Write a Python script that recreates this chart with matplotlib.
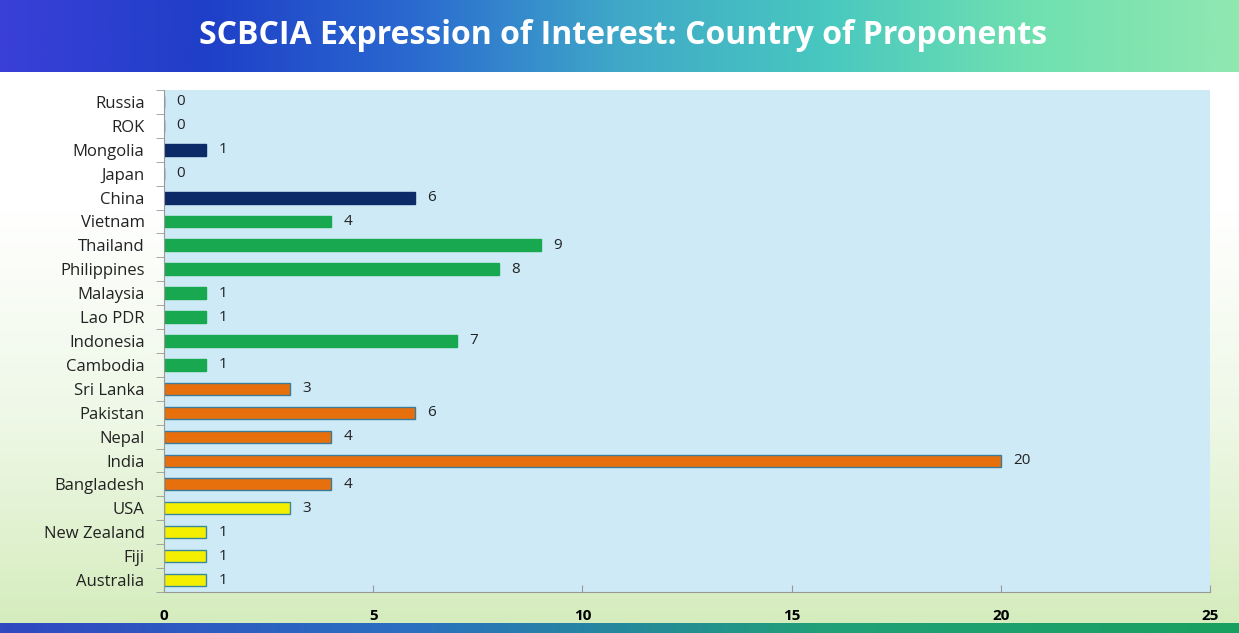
import numpy as np
import matplotlib.pyplot as plt
from matplotlib.colors import LinearSegmentedColormap

# data, bottom to top as drawn
countries = ["Australia", "Fiji", "New Zealand", "USA", "Bangladesh", "India",
             "Nepal", "Pakistan", "Sri Lanka", "Cambodia", "Indonesia", "Lao PDR",
             "Malaysia", "Philippines", "Thailand", "Vietnam", "China", "Japan",
             "Mongolia", "ROK", "Russia"]
proponents = [1, 1, 1, 3, 4, 20, 4, 6, 3, 1, 7, 1, 1, 8, 9, 4, 6, 0, 1, 0, 0]
regions = ["pacific"] * 4 + ["south"] * 5 + ["southeast"] * 7 + ["east"] * 5
x_ticks = [0, 5, 10, 15, 20, 25]

region_colors = {"pacific": "#f4ee00", "south": "#e8700c",
                 "southeast": "#18a850", "east": "#0c2a68"}
region_edges = {"pacific": "#3a8a9a", "south": "#3a7a9a",
                "southeast": "#18a850", "east": "#0c2a68"}

fig = plt.figure(figsize=(12.39, 6.33), dpi=100)

# page background: white fading to pale green at the bottom
bg = fig.add_axes([0, 0, 1, 1], zorder=0)
bg.set_axis_off()
grad = np.linspace(0, 1, 256).reshape(-1, 1)
bg_cmap = LinearSegmentedColormap.from_list("bg", ["#d4ecbc", "#eef8e6", "#ffffff", "#ffffff"])
bg.imshow(grad, aspect="auto", cmap=bg_cmap, extent=[0, 1, 0, 1], origin="lower")
bg.set_xlim(0, 1)
bg.set_ylim(0, 1)

# title banner
banner = fig.add_axes([0, 1 - 72 / 633, 1, 72 / 633], zorder=1)
banner.set_axis_off()
hgrad = np.linspace(0, 1, 512).reshape(1, -1)
ban_cmap = LinearSegmentedColormap.from_list(
    "ban", ["#3a3fd8", "#1f3fc8", "#2a6ad0", "#40a8c8", "#48c8c0", "#70e0b0", "#90e8b0"])
banner.imshow(hgrad, aspect="auto", cmap=ban_cmap, extent=[0, 1, 0, 1])
banner.text(0.503, 0.5, "SCBCIA Expression of Interest: Country of Proponents",
            color="white", fontsize=23, fontweight="bold", family="Open Sans",
            ha="center", va="center")

# bottom strip
strip = fig.add_axes([0, 0, 1, 10 / 633], zorder=1)
strip.set_axis_off()
strip_cmap = LinearSegmentedColormap.from_list("strip", ["#3048c0", "#2a70c0", "#20a078", "#18a060"])
strip.imshow(hgrad, aspect="auto", cmap=strip_cmap, extent=[0, 1, 0, 1])

ax = fig.add_axes([164 / 1239, 1 - 592 / 633, (1210 - 164) / 1239, (592 - 90) / 633], zorder=2)
ax.set_facecolor("#cdeaf6")

y = np.arange(len(countries))
colors = [region_colors[r] for r in regions]
edges = [region_edges[r] for r in regions]
ax.barh(y, proponents, height=0.5, color=colors, edgecolor=edges, linewidth=1)

for yi, v in zip(y, proponents):
    ax.text(v + 0.3, yi, str(v), va="center", ha="left", fontsize=11,
            family="Open Sans", color="#222222")

ax.set_xlim(0, 25)
ax.set_ylim(-0.5, len(countries) - 0.5)
ax.set_xticks(x_ticks)
ax.set_xticklabels([str(t) for t in x_ticks], fontsize=11, fontweight="bold",
                   family="Open Sans")
ax.set_yticks(y)
ax.set_yticklabels(countries, fontsize=12, family="Open Sans", color="#222222")
ax.tick_params(axis="y", length=0, pad=14)
ax.set_yticks(np.arange(-0.5, len(countries), 1), minor=True)
ax.tick_params(axis="y", which="minor", length=6, color="#999999", direction="out")
ax.tick_params(axis="x", length=5, color="#999999", pad=12, direction="in")

for side in ["top", "right"]:
    ax.spines[side].set_visible(False)
for side in ["left", "bottom"]:
    ax.spines[side].set_color("#999999")

fig.savefig("out.png", dpi=100)
